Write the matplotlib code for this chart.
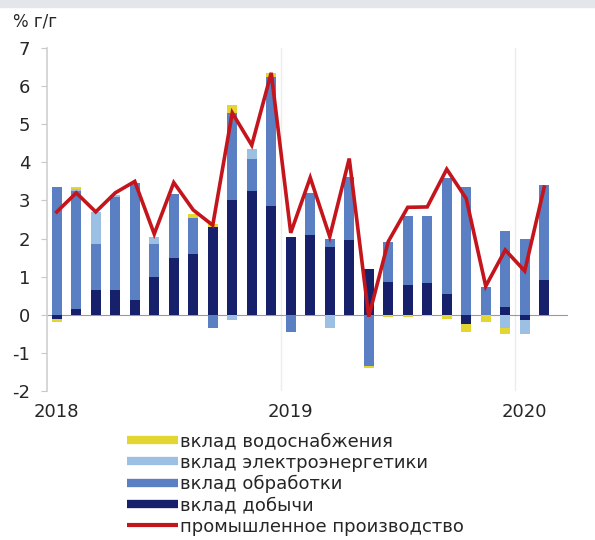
import matplotlib
matplotlib.use("Agg")
import matplotlib.pyplot as plt
import numpy as np
from matplotlib.lines import Line2D

plt.rcParams['font.family'] = ['DejaVu Sans']

# Monthly contributions to industrial production growth, Jan 2018 - Feb 2020
months = [
    "2018-01", "2018-02", "2018-03", "2018-04", "2018-05", "2018-06",
    "2018-07", "2018-08", "2018-09", "2018-10", "2018-11", "2018-12",
    "2019-01", "2019-02", "2019-03", "2019-04", "2019-05", "2019-06",
    "2019-07", "2019-08", "2019-09", "2019-10", "2019-11", "2019-12",
    "2020-01", "2020-02",
]
mining = [-0.10, 0.15, 0.65, 0.65, 0.40, 1.00, 1.48, 1.60, 2.30, 3.00, 3.25, 2.85,
          2.05, 2.10, 1.78, 1.96, 1.20, 0.86, 0.78, 0.83, 0.55, -0.25, 0.00, 0.20,
          -0.15, 0.91]
manufacturing = [3.35, 3.10, 1.20, 2.45, 3.05, 0.85, 1.70, 0.95, -0.35, 2.30, 0.85, 3.40,
                 -0.45, 1.10, 0.22, 1.65, -1.35, 1.05, 1.82, 1.75, 3.05, 3.35, 0.73, 2.00,
                 2.00, 2.50]
electricity = [0.00, 0.05, 0.85, 0.05, 0.00, 0.20, 0.00, 0.00, 0.00, -0.15, 0.25, 0.00,
               0.00, 0.00, -0.35, 0.00, 0.00, 0.00, 0.00, 0.00, 0.00, 0.00, 0.00, -0.35,
               -0.35, 0.00]
water = [-0.10, 0.05, 0.00, 0.00, 0.00, 0.00, 0.00, 0.10, 0.08, 0.20, 0.00, 0.10,
         0.00, 0.00, 0.00, 0.00, -0.06, -0.05, -0.05, -0.04, -0.10, -0.20, -0.20, -0.15,
         0.00, 0.00]
industry_total = [2.70, 3.20, 2.70, 3.20, 3.50, 2.12, 3.47, 2.75, 2.35, 5.30, 4.45, 6.35,
                  2.15, 3.60, 2.05, 4.10, -0.05, 1.92, 2.82, 2.83, 3.82, 3.05, 0.75, 1.70,
                  1.15, 3.35]

year_labels = ["2018", "2019", "2020"]
series_labels = ["вклад водоснабжения", "вклад электроэнергетики",
                 "вклад обработки", "вклад добычи", "промышленное производство"]

c_mining = "#17216b"
c_manuf = "#5a7fc2"
c_elec = "#9cc0e4"
c_water = "#e3d630"
c_line = "#c4141c"
c_text = "#262626"

fig = plt.figure(figsize=(5.95, 5.40), dpi=100)
fig.patches.append(plt.Rectangle((0, 1 - 7 / 540), 1, 7 / 540,
                                 transform=fig.transFigure, color="#e3e6eb", zorder=0))
ax = fig.add_axes([0.079, 0.276, 0.875, 0.635])

x = np.arange(len(months))
width = 0.5

pos_base = np.zeros(len(x))
neg_base = np.zeros(len(x))
for vals, col in [(mining, c_mining), (manufacturing, c_manuf),
                  (electricity, c_elec), (water, c_water)]:
    v = np.array(vals, dtype=float)
    p = np.where(v > 0, v, 0)
    n = np.where(v < 0, v, 0)
    ax.bar(x, p, width, bottom=pos_base, color=col, zorder=3, linewidth=0)
    ax.bar(x, n, width, bottom=neg_base, color=col, zorder=3, linewidth=0)
    pos_base += p
    neg_base += n

ax.plot(x, industry_total, color=c_line, lw=2.6, zorder=4, solid_joinstyle="miter")

ax.axhline(0, color="#9a9a9a", lw=0.8, zorder=2)
for xv in [11.5, 23.5]:
    ax.axvline(xv, color="#ececec", lw=1.0, zorder=1)

ax.set_xlim(-0.5, 26.2)
ax.set_ylim(-2, 7)
ax.set_yticks(range(-2, 8))
ax.set_yticklabels([str(v) for v in range(-2, 8)])
ax.set_xticks([0, 12, 24])
ax.set_xticklabels(year_labels)
ax.tick_params(axis="y", length=4, color="#c8c8c8", labelsize=13, labelcolor=c_text, pad=8)
ax.tick_params(axis="x", length=0, labelsize=13, labelcolor=c_text, pad=9)

for s in ["top", "right", "bottom"]:
    ax.spines[s].set_visible(False)
ax.spines["left"].set_color("#d0d0d0")
ax.spines["left"].set_linewidth(1.2)

fig.text(13 / 595, 1 - 22 / 540, "% г/г", fontsize=12, color=c_text, va="center")

handles = [
    Line2D([], [], color=c_water, lw=6, solid_capstyle="butt"),
    Line2D([], [], color=c_elec, lw=6, solid_capstyle="butt"),
    Line2D([], [], color=c_manuf, lw=6, solid_capstyle="butt"),
    Line2D([], [], color=c_mining, lw=6, solid_capstyle="butt"),
    Line2D([], [], color=c_line, lw=3, solid_capstyle="butt"),
]
fig.legend(handles, series_labels, loc="upper left", bbox_to_anchor=(0.213, 0.199),
           frameon=False, fontsize=13, handlelength=2.85, handletextpad=0.12,
           labelspacing=0.18, borderaxespad=0, borderpad=0, labelcolor=c_text)

fig.savefig("out.png", dpi=100)
